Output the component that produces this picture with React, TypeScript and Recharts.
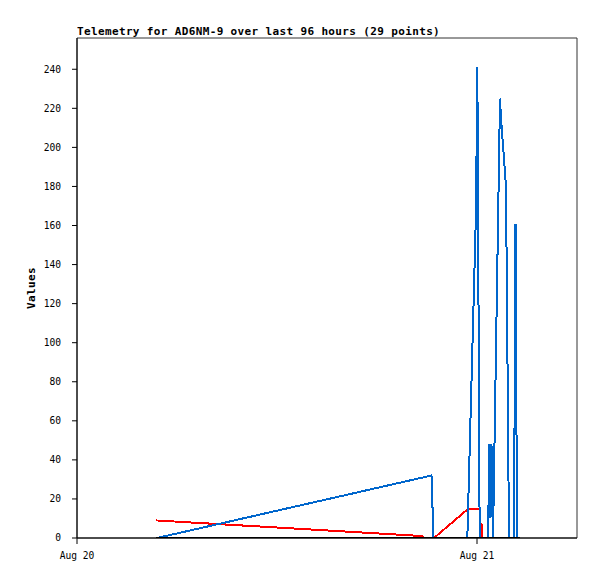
import React from 'react';
import { LineChart, Line, XAxis, YAxis, ReferenceArea } from 'recharts';

// time in hours since Aug 20 00:00
const blueTimes = [4.80, 21.27, 21.39, 23.42, 23.94, 24.02, 24.16, 24.66, 24.75, 24.81, 24.87, 24.92, 24.96, 25.38, 25.44, 25.74, 25.92, 26.22, 26.31, 26.40, 26.58];
const blueValues = [0, 32, 0, 0, 167, 241, 0, 0, 48, 10, 48, 16, 0, 225, 215, 180, 0, 0, 161, 0, 0];

const redTimes = [4.74, 20.70, 20.82, 21.42, 23.48, 24.15, 24.17, 24.27, 24.33, 26.58];
const redValues = [9, 1, 0, 0, 15, 15, 0, 7.5, 0, 0];

const blackTimes = [4.74, 26.58];
const blackValues = [0, 0];

const xTicks = [0, 24];
const xTickLabels = ['Aug 20', 'Aug 21'];
const yTicks = [0, 20, 40, 60, 80, 100, 120, 140, 160, 180, 200, 220, 240];

const title = 'Telemetry for AD6NM-9 over last 96 hours (29 points)';
const yLabel = 'Values';

const toRows = (ts: number[], vs: number[]) => ts.map((t, i) => ({ t, v: vs[i] }));
const blueData = toRows(blueTimes, blueValues);
const redData = toRows(redTimes, redValues);
const blackData = toRows(blackTimes, blackValues);

const mono = '"DejaVu Sans Mono", monospace';

export default function App() {
  return (
    <div style={{ position: 'absolute', left: 0, top: 0, width: 597, height: 579, background: '#fff' }}>
      <LineChart width={597} height={579} margin={{ top: 38, right: 20, bottom: 0, left: 0 }}>
        <ReferenceArea x1={0} x2={30} y1={0} y2={256} fill="#fff" fillOpacity={0} stroke="#333" strokeWidth={1} ifOverflow="visible" />
        <XAxis
          dataKey="t"
          type="number"
          domain={[0, 30]}
          ticks={xTicks}
          allowDataOverflow
          height={41}
          tickSize={6}
          tickMargin={8}
          stroke="#000"
          tick={{ fill: '#000', fontFamily: mono, fontSize: 9.6 }}
          tickFormatter={(t: number) => xTickLabels[xTicks.indexOf(t)] ?? ''}
        />
        <YAxis
          type="number"
          domain={[0, 256]}
          ticks={yTicks}
          allowDataOverflow
          width={77}
          tickSize={5}
          tickMargin={11}
          stroke="#000"
          tick={{ fill: '#000', fontFamily: mono, fontSize: 9.6 }}
        />
        <Line data={redData} dataKey="v" type="linear" stroke="#ff0000" strokeWidth={2} dot={false} activeDot={false} isAnimationActive={false} shapeRendering="crispEdges" />
        <Line data={blueData} dataKey="v" type="linear" stroke="#0066cc" strokeWidth={2} dot={false} activeDot={false} isAnimationActive={false} shapeRendering="crispEdges" />
        <Line data={blackData} dataKey="v" type="linear" stroke="#000000" strokeWidth={2} dot={false} activeDot={false} isAnimationActive={false} shapeRendering="crispEdges" />
      </LineChart>
      <svg width={597} height={579} style={{ position: 'absolute', left: 0, top: 0, pointerEvents: 'none' }}>
        <text x={77} y={35} fontFamily={mono} fontSize={11} fontWeight="bold" letterSpacing={0.36} fill="#000">
          {title}
        </text>
        <text transform="translate(35,288) rotate(-90)" textAnchor="middle" fontFamily={mono} fontSize={11} fontWeight="bold" letterSpacing={0.36} fill="#000">
          {yLabel}
        </text>
      </svg>
    </div>
  );
}
